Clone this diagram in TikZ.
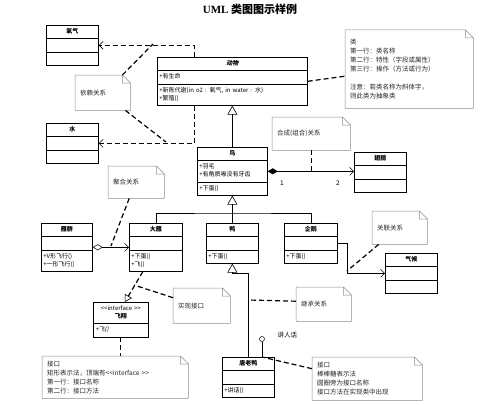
\documentclass[tikz,border=0pt]{standalone}
\usepackage{fontspec}
\setmainfont{Noto Sans CJK SC}
\newfontfamily\titlefont{Liberation Serif}
\newfontfamily\absfont[FakeSlant=0.2]{Noto Sans CJK SC}
\usetikzlibrary{positioning, arrows.meta, shapes.multipart, calc}

\begin{document}
\begin{tikzpicture}[x=1pt, y=-1pt,
  cls/.style={rectangle split, rectangle split parts=3, draw, line width=0.7pt,
              anchor=north west, inner xsep=2pt, inner ysep=2.3pt, align=left,
              fill=white, font=\fontsize{6}{8}\selectfont},
  intf/.style={cls, rectangle split parts=2},
  notebd/.style={draw=black!45, line width=0.5pt},
  notebox/.style={anchor=north west, inner xsep=5pt, inner ysep=2pt, align=left,
              font=\fontsize{6.5}{9}\selectfont, text=black!85,
              append after command={\pgfextra{
                \draw[notebd] (\tikzlastnode.north west) -- ([xshift=-8pt]\tikzlastnode.north east)
                  -- ([yshift=-8pt]\tikzlastnode.north east) -- (\tikzlastnode.south east)
                  -- (\tikzlastnode.south west) -- cycle
                  ([xshift=-8pt]\tikzlastnode.north east) |- ([yshift=-8pt]\tikzlastnode.north east);}}},
  dep/.style={line width=1.2pt, dash pattern=on 5pt off 3pt,
              -{Straight Barb[length=4pt, width=8pt, line width=0.6pt]}},
  notelink/.style={line width=1.2pt, dash pattern=on 5pt off 3pt},
  inh/.style={line width=0.5pt, -{Triangle[open, length=9pt, width=10pt, line width=0.6pt]}},
  gen/.style={line width=0.5pt},
  comp/.style={line width=0.5pt, {Diamond[length=10pt, width=6pt]}-{Straight Barb[length=4pt, width=8pt]}},
  agg/.style={line width=0.5pt, {Diamond[open, length=10pt, width=6pt]}-{Straight Barb[length=4pt, width=8pt]}},
  asc/.style={line width=0.5pt, -{Straight Barb[length=4pt, width=8pt]}},
  real/.style={line width=1.2pt, dash pattern=on 5pt off 3pt,
              -{Triangle[open, length=7pt, width=8pt, line width=0.6pt]}},
  mult/.style={font=\fontsize{6.5}{8}\selectfont},
]
\useasboundingbox (0,0) rectangle (500,404);

% === Title ===
\node[font=\bfseries\fontsize{11}{13}\selectfont] (title) at (250,9) {{\titlefont UML} 类图图示样例};

% === Classes ===
\node[cls, text width=48pt] (yangqi) at (46,25) {\centering\strut\textbf{氧气}\par\nodepart{two}\strut\nodepart{three}\strut};
\node[cls, text width=48pt] (shui) at (46,123) {\centering\strut\textbf{水}\par\nodepart{two}\strut\nodepart{three}\strut};

\node[cls, text width=146pt] (dongwu) at (157,57) {\centering\strut{\absfont\bfseries 动物}\par
  \nodepart{two}\strut+有生命
  \nodepart{three}\strut+新陈代谢(in o2 : 氧气, in water : 水)\\\strut+繁殖()};

\node[cls, text width=66pt] (niao) at (197,147) {\centering\strut\textbf{鸟}\par
  \nodepart{two}\strut+羽毛\\\strut+有角质喙没有牙齿
  \nodepart{three}\strut+下蛋()};
\node[cls, text width=48pt] (chibang) at (354,152) {\centering\strut\textbf{翅膀}\par\nodepart{two}\strut\nodepart{three}\strut};

\node[cls, text width=47pt] (yanqun) at (41,223) {\centering\strut\textbf{雁群}\par
  \nodepart{two}\strut
  \nodepart{three}\strut+V形飞行()\\\strut+一形飞行()};
\node[cls, text width=49pt] (dayan) at (129,223) {\centering\strut\textbf{大雁}\par
  \nodepart{two}\strut
  \nodepart{three}\strut+下蛋()\\\strut+飞()};
\node[cls, text width=48pt] (ya) at (206,223) {\centering\strut\textbf{鸭}\par
  \nodepart{two}\strut
  \nodepart{three}\strut+下蛋()};
\node[cls, text width=49pt] (qie) at (284,223) {\centering\strut\textbf{企鹅}\par
  \nodepart{two}\strut
  \nodepart{three}\strut+下蛋()};
\node[cls, text width=48pt] (qihou) at (385,253) {\centering\strut\textbf{气候}\par\nodepart{two}\strut\nodepart{three}\strut};

\node[intf, text width=51pt] (feixiang) at (93,302) {\centering\strut<\kern0pt<interface >\kern0pt>\\\strut\textbf{飞翔}\par
  \nodepart{two}\strut{\absfont +飞()}};
\node[cls, text width=48pt] (tang) at (222,357) {\centering\strut\textbf{唐老鸭}\par
  \nodepart{two}\strut
  \nodepart{three}\strut+讲话()};

% lollipop interface
\node[circle, draw, line width=0.5pt, minimum size=5pt, inner sep=0pt] (jianghua) at (262,339) {};
\node[font=\fontsize{6.5}{8}\selectfont, anchor=west] (jhlabel) at (274,335) {讲人话};

% === Notes ===
\node[notebox, text width=45pt, minimum height=35pt] (yilai) at (75,75) {依赖关系};
\node[notebox, text width=118pt, minimum height=78pt] (leinote) at (345,30)
  {类\\第一行：类名称\\第二行：特性（字段或属性）\\第三行：操作（方法或行为）\\[9pt]注意：若类名称为斜体字，\\则此类为抽象类};
\node[notebox, text width=68pt, minimum height=33pt] (hecheng) at (272,117) {合成(组合)关系};
\node[notebox, text width=46pt, minimum height=32pt] (juhe) at (108,166) {聚合关系};
\node[notebox, text width=45pt, minimum height=33pt] (guanlian) at (372,211) {关联关系};
\node[notebox, text width=47pt, minimum height=35pt] (shixian) at (173,288) {实现接口};
\node[notebox, text width=45pt, minimum height=34pt] (jicheng) at (296,287) {继承关系};
\node[notebox, text width=136pt, minimum height=42pt] (jiekou1) at (42,356)
  {接口\\矩形表示法，顶端有<\kern0pt<interface >\kern0pt>\\第一行：接口名称\\第二行：接口方法};
\node[notebox, text width=100pt, minimum height=43pt] (jiekou2) at (312,357)
  {接口\\棒棒糖表示法\\圆圈旁为接口名称\\接口方法在实现类中出现};

% === Relations ===
% dependency
\draw[dep] ([xshift=-38pt]dongwu.north) |- (yangqi.east);
\draw[dep] ([xshift=-38pt]dongwu.south) |- (shui.east);

% generalization
\coordinate (fork) at (232,213);
\draw[inh] (niao.north) -- (dongwu.south);
\draw[inh] (ya.north) -- (niao.south);
\draw[gen] (dayan.north) |- (fork) -| (qie.north);
\draw[inh] (tang.north) |- ([yshift=-10pt]ya.south) -- (ya.south);

% composition, aggregation, association
\draw[comp] (niao.east) -- (niao.east -| chibang.west);
\node[mult] (m1) at (282,183) {1};
\node[mult] (m2) at (338,183) {2};
\draw[agg] (yanqun.east) -- (yanqun.east -| dayan.west);
\draw[asc] (qie.east) -- ++(10,0) |- (qihou.west);

% realization
\draw[real] ([xshift=-13pt]dayan.south) -- ([xshift=4pt]feixiang.north);
\draw[gen] (jianghua.south) -- (jianghua.south |- tang.north);

% === Note links ===
\coordinate (dep1) at (153,44);
\coordinate (dep2) at (166,142);
\coordinate (agg1) at (111,246);
\coordinate (asc1) at (347,271);
\coordinate (real1) at (134,285);
\coordinate (inh1) at (248,300);
\draw[notelink] ([xshift=-8pt]yilai.north east) -- (dep1);
\draw[notelink] ([xshift=-5pt]yilai.south east) -- (dep2);
\draw[notelink] (dongwu.east) -- ([yshift=-7pt]leinote.west);
\draw[notelink] (hecheng.south) -- (hecheng.south |- niao.east);
\draw[notelink] ([xshift=-7pt]juhe.south) -- (agg1);
\draw[notelink] ([xshift=-21pt]guanlian.south) -- (asc1);
\draw[notelink] ([yshift=8pt]shixian.west) -- (real1);
\draw[notelink] (feixiang.south) -- (feixiang.south |- jiekou1.north);
\draw[notelink] ([yshift=3pt]jicheng.west) -- (inh1);
\draw[notelink] ([yshift=10pt]jiekou2.west) -- (jianghua.south |- tang.north);

\end{tikzpicture}
\end{document}
